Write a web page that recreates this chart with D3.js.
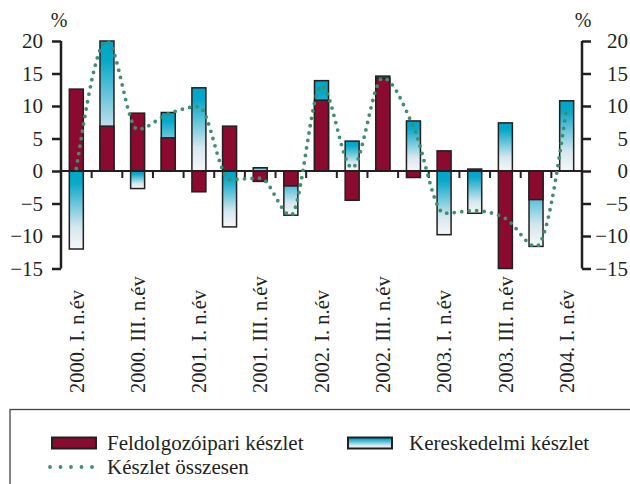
<!doctype html>
<html>

<head>
  <meta charset="utf-8">
  <title>Készletek</title>
  <script src="https://d3js.org/d3.v7.min.js"></script>
  <style>
    body {
      margin: 0;
      background: #fff;
    }

    text {
      font-family: "Liberation Serif", "Times New Roman", serif;
      fill: #231f20;
    }
  </style>
</head>

<body>
  <div id="chart"></div>

  <script>
    // quarters 2000 I. - 2004 I.
    var quarters = ["2000. I.", "2000. II.", "2000. III.", "2000. IV.",
      "2001. I.", "2001. II.", "2001. III.", "2001. IV.",
      "2002. I.", "2002. II.", "2002. III.", "2002. IV.",
      "2003. I.", "2003. II.", "2003. III.", "2003. IV.",
      "2004. I."];
    // Feldolgozóipari készlet (red)
    var manufacturing = [12.6, 6.9, 8.9, 5.1, -3.2, 6.9, -1.6, -2.3, 10.9, -4.5, 14.3, -1.0, 3.1, 0.3, -15.0, -4.4, null];
    // Kereskedelmi készlet (blue)
    var trade = [-12.0, 20.0, -2.7, 9.0, 12.8, -8.6, 0.5, -6.8, 13.9, 4.6, 14.6, 7.7, -9.8, -6.5, 7.4, -11.6, 10.8];
    // Készlet összesen (dotted)
    var total = [0.4, 20.0, 6.4, 8.8, 9.9, -1.3, -1.1, -6.8, 13.1, 0.5, 14.3, 6.8, -6.5, -6.1, -7.3, -11.6, 9.7];
    var yTicks = [-15, -10, -5, 0, 5, 10, 15, 20];
    var shownLabels = ["2000. I.", "2000. III.", "2001. I.", "2001. III.", "2002. I.",
      "2002. III.", "2003. I.", "2003. III.", "2004. I."];
    var legendItems = ["Feldolgozóipari készlet", "Kereskedelmi készlet", "Készlet összesen"];

    var width = 630;
    var height = 484;
    var plotLeft = 61, plotRight = 582, plotTop = 41, plotBottom = 268.5;

    var red = "#8a0a30";
    var dotColor = "#3f8e70";
    var ink = "#231f20";

    var svg = d3.select("#chart")
      .append("svg")
      .attr("width", width)
      .attr("height", height);

    var defs = svg.append("defs");
    var grad = defs.append("linearGradient")
      .attr("id", "blueGrad")
      .attr("x1", 0).attr("y1", 0)
      .attr("x2", 0).attr("y2", 1);
    grad.append("stop").attr("offset", "0").attr("stop-color", "#00a6c6");
    grad.append("stop").attr("offset", "0.15").attr("stop-color", "#08a8c8");
    grad.append("stop").attr("offset", "0.72").attr("stop-color", "#d6e7ef");
    grad.append("stop").attr("offset", "1").attr("stop-color", "#f6f7f8");

    var x = d3.scaleBand()
      .domain(quarters)
      .range([plotLeft, plotRight]);

    var y = d3.scaleLinear()
      .domain([-15, 20])
      .range([plotBottom, plotTop]);

    var barW = 14;

    function barRect(sel) {
      sel.attr("x", function(d, i) { return x(quarters[i]) + x.bandwidth() / 2 - barW / 2; })
        .attr("width", barW)
        .attr("y", function(d) { return y(Math.max(0, d)); })
        .attr("height", function(d) { return Math.abs(y(d) - y(0)); })
        .attr("stroke", ink)
        .attr("stroke-width", 1.5);
    }

    // blue bars first, red drawn over them
    svg.append("g").selectAll("rect")
      .data(trade)
      .enter()
      .append("rect")
      .call(barRect)
      .attr("fill", "url(#blueGrad)");

    svg.append("g").selectAll("rect")
      .data(manufacturing)
      .enter()
      .append("rect")
      .call(barRect)
      .attr("fill", red)
      .attr("display", function(d) { return d === null ? "none" : null; });

    // zero line with ticks at category borders
    svg.append("line")
      .attr("x1", plotLeft).attr("x2", plotRight)
      .attr("y1", y(0)).attr("y2", y(0))
      .attr("stroke", ink).attr("stroke-width", 2);

    svg.append("g").selectAll("line")
      .data(quarters.slice(1))
      .enter()
      .append("line")
      .attr("x1", function(d) { return x(d); })
      .attr("x2", function(d) { return x(d); })
      .attr("y1", y(0))
      .attr("y2", y(0) + 7)
      .attr("stroke", ink).attr("stroke-width", 2);

    // dotted total line
    var line = d3.line()
      .x(function(d, i) { return x(quarters[i]) + x.bandwidth() / 2; })
      .y(function(d) { return y(d); })
      .curve(d3.curveMonotoneX);

    svg.append("path")
      .datum(total)
      .attr("d", line)
      .attr("fill", "none")
      .attr("stroke", dotColor)
      .attr("stroke-width", 3.8)
      .attr("stroke-linecap", "round")
      .attr("stroke-dasharray", "0 7.5");

    // y axes, left and right
    var fmt = function(d) { return d < 0 ? "\u2212" + Math.abs(d) : d; };

    var leftAxis = svg.append("g")
      .attr("transform", "translate(" + plotLeft + ",0)")
      .call(d3.axisLeft(y).tickValues(yTicks).tickSize(9).tickPadding(9).tickFormat(fmt));

    var rightAxis = svg.append("g")
      .attr("transform", "translate(" + plotRight + ",0)")
      .call(d3.axisRight(y).tickValues(yTicks).tickSize(9).tickPadding(0).tickFormat(fmt));

    [leftAxis, rightAxis].forEach(function(g) {
      g.select(".domain").attr("d", "M0," + plotTop + "V" + plotBottom)
        .attr("stroke", ink).attr("stroke-width", 2.5);
      g.selectAll(".tick line").attr("stroke", ink).attr("stroke-width", 2.5);
      g.selectAll("text")
        .attr("fill", ink)
        .style("font-family", "'Liberation Serif', serif")
        .style("font-size", "21px");
    });
    rightAxis.selectAll("text")
      .attr("text-anchor", "end")
      .attr("x", 628 - plotRight);

    svg.append("text")
      .attr("x", 59).attr("y", 27)
      .attr("text-anchor", "middle")
      .style("font-size", "20px")
      .text("%");

    svg.append("text")
      .attr("x", 583).attr("y", 27)
      .attr("text-anchor", "middle")
      .style("font-size", "20px")
      .text("%");

    // rotated category labels
    svg.append("g").selectAll("text")
      .data(shownLabels)
      .enter()
      .append("text")
      .attr("transform", function(d) {
        return "translate(" + (x(d) + x.bandwidth() / 2) + ",393)rotate(-90)";
      })
      .attr("dy", "0.35em")
      .style("font-size", "20.5px")
      .text(function(d) { return d + " n.év"; });

    // legend
    var legend = svg.append("g");
    legend.append("rect")
      .attr("x", 10).attr("y", 409.5)
      .attr("width", 700).attr("height", 120)
      .attr("fill", "none")
      .attr("stroke", "#444")
      .attr("stroke-width", 1.3);

    legend.append("rect")
      .attr("x", 52).attr("y", 437.5)
      .attr("width", 44).attr("height", 11)
      .attr("fill", red).attr("stroke", ink).attr("stroke-width", 2);

    legend.append("rect")
      .attr("x", 348).attr("y", 437.5)
      .attr("width", 44).attr("height", 11)
      .attr("fill", "url(#blueGrad)").attr("stroke", ink).attr("stroke-width", 2);

    legend.append("line")
      .attr("x1", 50).attr("x2", 93)
      .attr("y1", 467).attr("y2", 467)
      .attr("stroke", dotColor)
      .attr("stroke-width", 3.8)
      .attr("stroke-linecap", "round")
      .attr("stroke-dasharray", "0 10.5");

    var legendPos = [[107, 450], [409, 450], [107, 474]];
    legend.selectAll("text.lg")
      .data(legendItems)
      .enter()
      .append("text")
      .attr("class", "lg")
      .attr("x", function(d, i) { return legendPos[i][0]; })
      .attr("y", function(d, i) { return legendPos[i][1]; })
      .style("font-size", "21px")
      .text(function(d) { return d; });
  </script>

</body>

</html>
